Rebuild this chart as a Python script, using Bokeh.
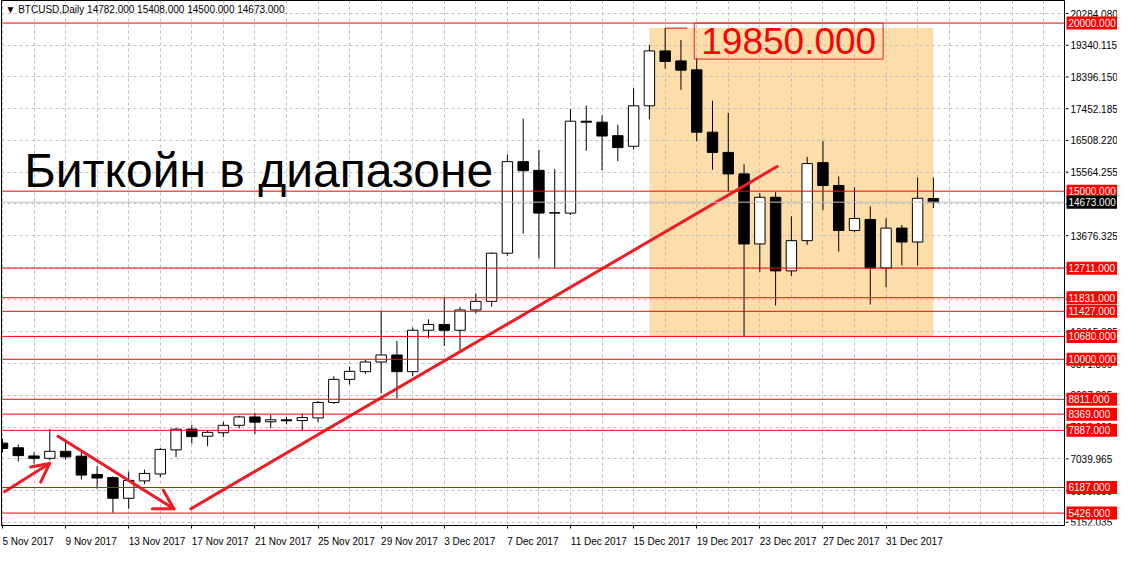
from bokeh.plotting import figure
from bokeh.layouts import row
from bokeh.models import Range1d, FixedTicker, Span, Label, ColumnDataSource
from bokeh.embed import file_html
from bokeh.resources import INLINE
from bokeh.core.properties import value

# ---------------- data ----------------
symbol = "BTCUSD,Daily"
tick_labels = ["5 Nov 2017", "9 Nov 2017", "13 Nov 2017", "17 Nov 2017", "21 Nov 2017",
               "25 Nov 2017", "29 Nov 2017", "3 Dec 2017", "7 Dec 2017", "11 Dec 2017",
               "15 Dec 2017", "19 Dec 2017", "23 Dec 2017", "27 Dec 2017", "31 Dec 2017"]

opens = [7506, 7369, 7125, 7054, 7263, 7119, 6575, 6481, 5867, 6383,
         6589, 7306, 7922, 7712, 7816, 8036, 8285, 8142, 8200, 8179,
         8257, 8715, 9403, 9632, 9919, 10128, 9632, 10864, 11036, 10864,
         11466, 11723, 13156, 15878, 15620, 14348, 14348, 17081, 17052, 16651,
         16336, 17539, 19172, 18874, 18608, 16754, 16153, 15514, 13431, 14818,
         12629, 13528, 15849, 15170, 13832, 14159, 12715, 13901, 13488, 14782]
highs = [7635, 7469, 7234, 7922, 7578, 7234, 6824, 6518, 6661, 6718,
         7363, 7950, 8051, 7893, 8142, 8323, 8409, 8351, 8285, 8380,
         8761, 9497, 9784, 9993, 11454, 10549, 10950, 11188, 11838, 11552,
         11961, 13179, 16087, 17155, 16230, 15657, 17442, 17548, 17253, 16975,
         18064, 19353, 19850, 19496, 18952, 17691, 17327, 15800, 14941, 14969,
         14253, 16021, 16488, 15436, 15113, 14548, 14196, 13995, 15408, 15408]
lows = [7234, 6962, 6899, 6996, 7013, 6423, 6154, 5438, 5552, 6289,
        6489, 7091, 7492, 7414, 7684, 7942, 7778, 7950, 8065, 7873,
        8131, 8675, 9248, 9563, 8990, 8830, 9497, 10623, 10394, 10262,
        11368, 11569, 13079, 13738, 13001, 12726, 14290, 16201, 15628, 15895,
        16239, 17138, 18645, 18015, 16488, 15637, 14998, 10692, 12600, 11597,
        12477, 13402, 14434, 13202, 13775, 11626, 12142, 12792, 12792, 14500]
closes = [7349, 7134, 7054, 7263, 7099, 6555, 6469, 5867, 6395, 6604,
          7320, 7922, 7701, 7827, 8036, 8285, 8131, 8200, 8171, 8265,
          8715, 9403, 9641, 9919, 10128, 9632, 10864, 11036, 10864, 11466,
          11723, 13156, 15878, 15608, 14348, 14360, 17081, 17052, 16640, 16296,
          17539, 19172, 18857, 18599, 16754, 16153, 15514, 13431, 14818, 12629,
          13528, 15820, 15170, 13832, 14187, 12715, 13901, 13488, 14789, 14673]

red_levels = [20000, 15000, 12711, 11831, 11427, 10680, 10000, 8811, 8369, 7887, 6187, 5426]
bid_price = 14673

y_ticks_upper = [20284.080, 19340.115, 18396.150, 17452.185, 16508.220, 15564.255,
                 14620.290, 13676.325, 12732.360, 11788.395]
y_ticks_lower = [10815.825, 9871.860, 8927.895, 7983.930, 7039.965, 6096.000, 5152.035]

# range rectangle (day index / price)
zone_days = [41, 59]
zone_prices = [10680, 19850]
marker_day = 42
marker_price = 19850
marker_text_day = 43.4

# hand-drawn trend lines and arrows (day index, price)
trend_x0 = [0.125, 2.98, 2.98, 3.52, 10.86, 10.86, 11.94]
trend_y0 = [6059, 6899, 6899, 7711, 5552, 5552, 5552]
trend_x1 = [2.98, 1.79, 2.42, 10.86, 9.5, 10.19, 49.1]
trend_y1 = [6899, 6795, 6346, 5552, 5552, 6108, 15734]

headline = "Биткойн в диапазоне"

# ---------------- main chart ----------------
X0, X1 = -0.0625, 67.31
Y0, Y1 = 5056.6, 20670.9
W_MAIN, W_SCALE, H = 1065, 52, 549
FRAME_W = W_MAIN - 2
BOTTOM = 20
FONT = "Liberation Sans"

p = figure(width=W_MAIN, height=H, x_range=Range1d(X0, X1), y_range=Range1d(Y0, Y1),
           y_axis_location=None, toolbar_location=None, output_backend="svg",
           min_border_left=1, min_border_top=0, min_border_right=1, min_border_bottom=BOTTOM,
           background_fill_color="white", border_fill_color="white")
p.outline_line_color = "black"
p.outline_line_width = 1

y_ticks = sorted(y_ticks_upper + y_ticks_lower)
p.ygrid.ticker = FixedTicker(ticks=y_ticks)
p.xgrid.ticker = FixedTicker(ticks=list(range(0, 68, 2)))
for g in (p.xgrid[0], p.ygrid[0]):
    g.grid_line_color = "#C0C0C0"
    g.grid_line_dash = "3 3"
    g.grid_line_width = 1

# x axis: labels start at the tick (label centre shifted by half its estimated width)
px_per_day = FRAME_W / (X1 - X0)
def _half_width_days(s):
    w = sum(5.56 if ch.isdigit() else 2.78 if ch == " " else 5.9 for ch in s)
    return round(w / 2 / px_per_day, 3)
tick_days = [4 * i for i in range(len(tick_labels))]
label_pos = [d + _half_width_days(t) for d, t in zip(tick_days, tick_labels)]
xa = p.xaxis[0]
xa.ticker = FixedTicker(ticks=label_pos, minor_ticks=tick_days)
xa.major_label_overrides = {pos: t for pos, t in zip(label_pos, tick_labels)}
xa.axis_line_color = "black"
xa.major_tick_line_color = None
xa.minor_tick_line_color = "black"
xa.minor_tick_in = 0
xa.minor_tick_out = 3
xa.major_label_standoff = 4
xa.major_label_text_font = FONT
xa.major_label_text_font_size = "10px"
xa.major_label_text_color = "black"

# range rectangle
p.quad(left=[zone_days[0]], right=[zone_days[1]], bottom=[zone_prices[0]], top=[zone_prices[1]],
       fill_color="#FDDDAA", line_color=None, level="image")

# candles
days = list(range(len(opens)))
src = ColumnDataSource(dict(
    day=days, low=lows, high=highs,
    top=[max(o, c) for o, c in zip(opens, closes)],
    bottom=[min(o, c) for o, c in zip(opens, closes)],
    fill=["white" if c >= o else "black" for o, c in zip(opens, closes)],
))
p.segment(x0="day", y0="low", x1="day", y1="high", source=src, line_color="black", line_width=1)
p.vbar(x="day", width=0.66, top="top", bottom="bottom", fill_color="fill",
       line_color="black", line_width=1, source=src)

# horizontal levels
p.add_layout(Span(location=bid_price, dimension="width", line_color="#C0C0C0", line_width=1))
for lv in red_levels:
    p.add_layout(Span(location=lv, dimension="width", line_color="#FF0000", line_width=1))

# trend lines / arrows
p.segment(x0=trend_x0, y0=trend_y0, x1=trend_x1, y1=trend_y1,
          line_color="#EE1C25", line_width=3, line_cap="round")

# price marker line + big label
p.segment(x0=[marker_day], y0=[marker_price], x1=[marker_text_day], y1=[marker_price],
          line_color="#FF0000", line_width=1)
p.add_layout(Label(x=marker_text_day, y=marker_price, text=f"{marker_price:.3f}",
                   text_color="#FF0000", text_font=FONT, text_font_size="37px",
                   text_baseline="middle", text_align="left", x_offset=7, y_offset=-13,
                   border_line_color="#E02020", border_line_width=1, padding=(7, 5)))

# headline
p.add_layout(Label(x=1.375, y=15628, text=headline, text_color="black",
                   text_font=FONT, text_font_size="48px",
                   text_baseline="alphabetic", text_align="left"))

# chart title
p.add_layout(Label(x=X0, y=Y1, x_offset=4, y_offset=-3,
                   text="\u25BC " + symbol + "  " + " ".join(f"{v:.3f}" for v in
                        (opens[-1], highs[-1], lows[-1], closes[-1])),
                   text_color="black", text_font=FONT, text_font_size="10px",
                   text_baseline="top", text_align="left"))

# ---------------- price scale strip ----------------
s = figure(width=W_SCALE, height=H, x_range=Range1d(0, W_SCALE), y_range=p.y_range,
           x_axis_location=None, y_axis_location=None, toolbar_location=None,
           output_backend="svg", min_border_left=0, min_border_right=0, min_border_top=0,
           min_border_bottom=BOTTOM, background_fill_color="white", border_fill_color="white")
s.outline_line_color = None
s.grid.visible = False

# tick marks and tick labels
s.segment(x0=[0] * len(y_ticks), y0=y_ticks, x1=[3] * len(y_ticks), y1=y_ticks,
          line_color="black", line_width=1)
s.text(x=[5] * len(y_ticks), y=y_ticks, text=[f"{t:.3f}" for t in y_ticks],
       text_font=value(FONT), text_font_size="10px", text_color="black",
       text_baseline="middle", text_align="left")

# price tags
tag_prices = red_levels + [bid_price]
tag_colors = ["#FF0000"] * len(red_levels) + ["black"]
s.rect(x=[(1 + W_SCALE) / 2] * len(tag_prices), y=tag_prices, width=W_SCALE - 1, height=13,
       height_units="screen", fill_color=tag_colors, line_color=None)
s.text(x=[3] * len(tag_prices), y=tag_prices, text=[f"{v:.3f}" for v in tag_prices],
       text_font=value(FONT), text_font_size="10px", text_color="white",
       text_baseline="middle", text_align="left")

layout = row(p, s, spacing=0)
open("out.html", "w").write(file_html(layout, INLINE))
